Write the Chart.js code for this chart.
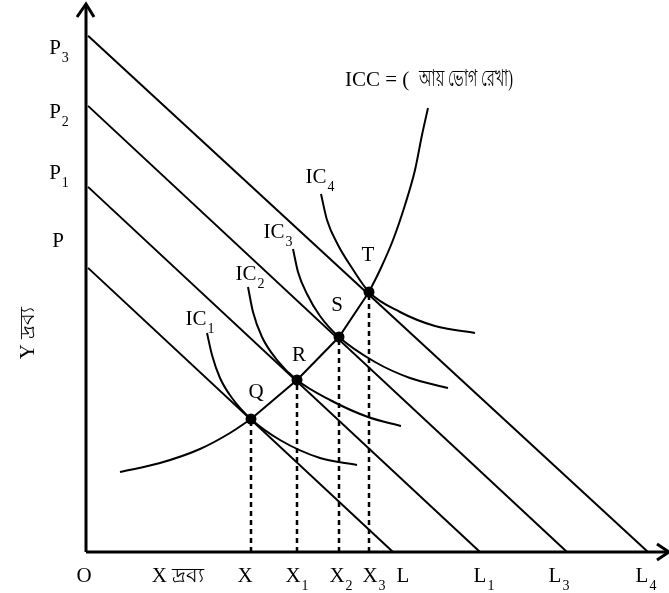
<!DOCTYPE html>
<html>
<head>
<meta charset="utf-8">
<script src="https://cdn.jsdelivr.net/npm/chart.js@4.4.1/dist/chart.umd.min.js"></script>
<style>
html,body{margin:0;padding:0;background:#fff;}
canvas{display:block;}
</style>
</head>
<body>
<canvas id="c" width="669" height="593"></canvas>
<script>
// ---- values (units: schematic quantity of X and Y) ----
const budgetNames   = ['P', 'P1', 'P2', 'P3'];
const budgetEndNames = ['L', 'L1', 'L3', 'L4'];
const budgetYIntercept = [286, 367, 448, 518];
const budgetXIntercept = [307, 394, 481, 562];

const eqNames = ['Q', 'R', 'S', 'T'];
const eqXNames = ['X', 'X1', 'X2', 'X3'];
const eqX = [165, 211, 253, 283];
const eqY = [133, 172, 215, 260];

const ic1 = [[121, 219], [126, 197], [134, 174], [146, 154], [165, 133], [194, 112], [234, 94], [271, 87]];
const ic2 = [[162, 265], [167, 240], [176, 215], [191, 192], [211, 172], [244, 152], [282, 135], [315, 126]];
const ic3 = [[207, 303], [212, 280], [221, 258], [234, 236], [253, 215], [289, 190], [324, 174], [362, 164]];
const ic4 = [[235, 358], [241, 332], [252, 307], [266, 284], [283, 260], [314, 240], [349, 226], [389, 219]];
const iccLower = [[34, 80], [74, 89], [114, 103], [144, 119], [165, 133]];
const iccUpper = [[283, 260], [294, 282], [307, 312], [319, 347], [329, 382], [336, 417], [342, 444]];

const axisYTop = 548;
const axisXEnd = 583;

// ---- datasets ----
const pts = a => a.map(p => ({x: p[0], y: p[1]}));
const black = '#000';
const datasets = [];

// axes
datasets.push({data: [{x: 0, y: 0}, {x: 0, y: axisYTop}], borderWidth: 3});
datasets.push({data: [{x: 0, y: 0}, {x: axisXEnd, y: 0}], borderWidth: 3});
datasets.push({data: [{x: -9, y: axisYTop - 13}, {x: 0, y: axisYTop}, {x: 8, y: axisYTop - 13}], borderWidth: 3});
datasets.push({data: [{x: axisXEnd - 12, y: 8}, {x: axisXEnd, y: 0}, {x: axisXEnd - 12, y: -8}], borderWidth: 3});

// budget lines
budgetYIntercept.forEach((b, i) => {
  datasets.push({data: [{x: 2, y: b * (1 - 2 / budgetXIntercept[i])}, {x: budgetXIntercept[i], y: 0}], borderWidth: 2});
});

// indifference curves
[ic1, ic2, ic3, ic4].forEach(c => {
  datasets.push({data: pts(c), borderWidth: 2, cubicInterpolationMode: 'monotone'});
});

// ICC
datasets.push({data: pts(iccLower), borderWidth: 2, cubicInterpolationMode: 'monotone'});
datasets.push({data: eqX.map((x, i) => ({x, y: eqY[i]})), borderWidth: 2});
datasets.push({data: pts(iccUpper), borderWidth: 2, cubicInterpolationMode: 'monotone'});

// dashed drop lines
eqX.forEach((x, i) => {
  datasets.push({data: [{x, y: 0}, {x, y: eqY[i]}], borderWidth: 2.5, borderDash: [5, 4]});
});

// equilibrium dots
datasets.push({data: eqX.map((x, i) => ({x, y: eqY[i]})), showLine: false, pointRadius: 5.5, pointBackgroundColor: black, pointBorderWidth: 0});

datasets.forEach(d => {
  d.borderColor = black;
  d.backgroundColor = black;
  d.fill = false;
  d.clip = false;
  if (d.showLine !== false) { d.showLine = true; d.pointRadius = 0; }
  if (d.tension === undefined) d.tension = 0;
});

// ---- text labels (positions in data units) ----
const serif = '"Liberation Serif", "Times New Roman", serif';
const labels = [
  ['P', '3', -31, 504], ['P', '2', -31, 440], ['P', '1', -31, 379], ['P', '', -28, 311],
  ['O', '', -2, -24], ['X দ্রব্য', '', 92, -24],
  ['X', '', eqX[0] - 6, -24], ['X', '1', eqX[1] - 4, -24], ['X', '2', eqX[2] - 2, -24], ['X', '3', eqX[3] + 1, -24],
  ['L', '', budgetXIntercept[0] + 10, -24], ['L', '1', budgetXIntercept[1] + 0, -24],
  ['L', '3', budgetXIntercept[2] - 12, -24], ['L', '4', budgetXIntercept[3] - 6, -24],
  ['IC', '1', 110, 233], ['IC', '2', 160, 278], ['IC', '3', 188, 320], ['IC', '4', 230, 375],
  ['Q', '', 170, 160], ['R', '', 213, 197], ['S', '', 251, 247], ['T', '', 282, 297]
];

const textPlugin = {
  id: 'texts',
  afterDatasetsDraw(chart) {
    const {ctx, scales: {x, y}} = chart;
    ctx.save();
    ctx.fillStyle = black;
    ctx.textBaseline = 'middle';
    labels.forEach(([main, sub, vx, vy]) => {
      const px = x.getPixelForValue(vx), py = y.getPixelForValue(vy);
      ctx.font = '21px ' + serif;
      const w = ctx.measureText(main).width;
      ctx.textAlign = 'left';
      ctx.fillText(main, px - w / 2, py, 56);
      if (sub) {
        ctx.font = '14px ' + serif;
        ctx.fillText(sub, px + w / 2 + 1, py + 10);
      }
    });
    // ICC title
    ctx.font = '21px ' + serif;
    ctx.textAlign = 'left';
    const tx = x.getPixelForValue(259), ty = y.getPixelForValue(472);
    ctx.fillText('ICC = (', tx, ty);
    ctx.font = '23px ' + serif;
    ctx.fillText('আয় ভোগ রেখা)', tx + 74, ty, 94);
    // Y axis title
    ctx.font = '21px ' + serif;
    ctx.translate(x.getPixelForValue(-58), y.getPixelForValue(219));
    ctx.rotate(-Math.PI / 2);
    ctx.textAlign = 'center';
    ctx.fillText('Y দ্রব্য', 0, 0, 54);
    ctx.restore();
  }
};

new Chart(document.getElementById('c'), {
  type: 'scatter',
  data: {datasets},
  options: {
    responsive: false,
    animation: false,
    devicePixelRatio: 1,
    layout: {padding: 0, autoPadding: false},
    plugins: {legend: {display: false}, tooltip: {enabled: false}, title: {display: false}},
    elements: {line: {borderCapStyle: 'butt', borderJoinStyle: 'miter'}},
    scales: {
      x: {type: 'linear', display: false, min: -86, max: 583},
      y: {type: 'linear', display: false, min: -41, max: 552}
    }
  },
  plugins: [textPlugin]
});
</script>
</body>
</html>
